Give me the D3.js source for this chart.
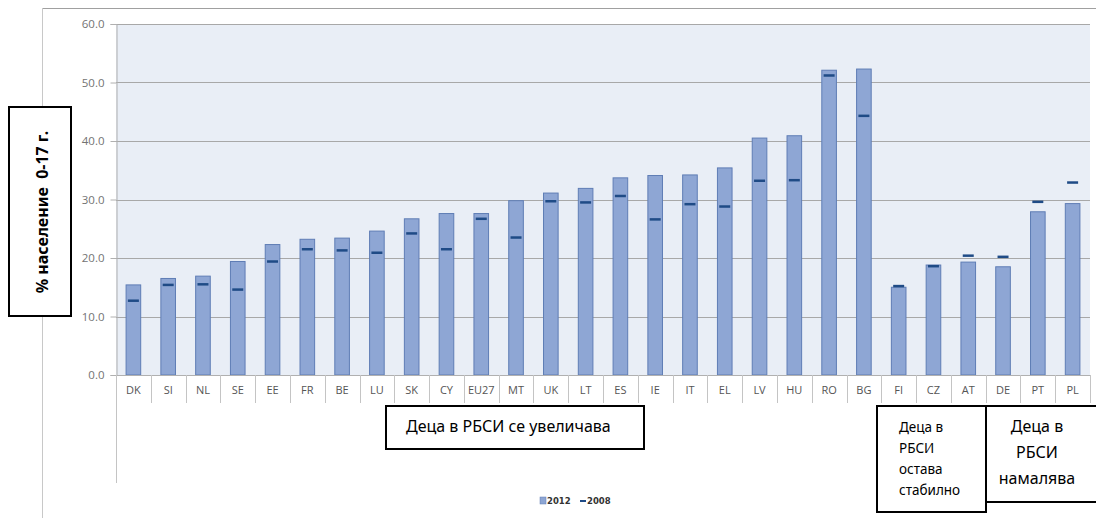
<!DOCTYPE html>
<html>
<head>
<meta charset="utf-8">
<script src="https://cdn.jsdelivr.net/npm/d3@7"></script>
<style>
  html, body { margin: 0; padding: 0; background: #fff; }
  svg { display: block; }
</style>
</head>
<body>
<svg id="chart" width="1096" height="518"></svg>
<script>
const categories = ["DK","SI","NL","SE","EE","FR","BE","LU","SK","CY","EU27","MT","UK","LT","ES","IE","IT","EL","LV","HU","RO","BG","FI","CZ","AT","DE","PT","PL"];
const values2012 = [15.4,16.5,16.9,19.4,22.3,23.2,23.4,24.6,26.7,27.6,27.6,29.8,31.1,31.9,33.7,34.1,34.2,35.4,40.5,40.9,52.1,52.3,15.0,18.8,19.3,18.5,27.9,29.3];
const values2008 = [12.7,15.4,15.5,14.6,19.4,21.5,21.3,20.9,24.2,21.5,26.7,23.5,29.7,29.5,30.6,26.6,29.2,28.8,33.2,33.3,51.2,44.3,15.2,18.6,20.4,20.2,29.6,32.9];
const yTicks = [0,10,20,30,40,50,60];
const seriesNames = ["2012","2008"];
const yAxisTitle = "% население  0-17 г.";
const noteIncrease = "Деца в РБСИ се увеличава";
const noteStable = ["Деца в","РБСИ","остава","стабилно"];
const noteDecrease = ["Деца в","РБСИ","намалява"];

const svg = d3.select("#chart");
const plot = {left: 116, right: 1090, top: 24, bottom: 375};

const x = d3.scaleBand().domain(categories).range([plot.left, plot.right]).paddingInner(0.58).paddingOuter(0.29);
const xBand = d3.scaleBand().domain(categories).range([plot.left, plot.right]);
const y = d3.scaleLinear().domain([0, 60]).range([plot.bottom, plot.top]);

// outer chart frame (top + left)
svg.append("line").attr("x1", 42).attr("x2", 1096).attr("y1", 8.5).attr("y2", 8.5).attr("stroke", "#a0a0a0");
svg.append("line").attr("x1", 42.5).attr("x2", 42.5).attr("y1", 8).attr("y2", 518).attr("stroke", "#c8c8c8");

// plot background
svg.append("rect").attr("x", plot.left).attr("y", plot.top).attr("width", plot.right - plot.left)
  .attr("height", plot.bottom - plot.top).attr("fill", "#e9eef6");

// gridlines
svg.append("g").selectAll("line").data(yTicks.filter(d => d > 0)).join("line")
  .attr("x1", plot.left).attr("x2", plot.right)
  .attr("y1", d => Math.round(y(d)) + 0.5).attr("y2", d => Math.round(y(d)) + 0.5)
  .attr("stroke", "#a8a8a8").attr("stroke-width", 1);

// y axis
const yAxis = svg.append("g").attr("transform", `translate(${plot.left + 0.5},0)`)
  .call(d3.axisLeft(y).tickValues(yTicks).tickFormat(d3.format(".1f")).tickSize(6).tickPadding(6));
yAxis.select(".domain").attr("stroke", "#b0b0b0");
yAxis.selectAll(".tick line").attr("stroke", "#b0b0b0");
yAxis.selectAll("text").attr("fill", "#737373").style("font-family", "Open Sans, sans-serif").style("font-size", "11.5px");

// bars 2012
svg.append("g").selectAll("rect").data(categories).join("rect")
  .attr("x", d => x(d)).attr("width", x.bandwidth())
  .attr("y", (d, i) => y(values2012[i])).attr("height", (d, i) => y(0) - y(values2012[i]))
  .attr("fill", "#8ea6d4").attr("stroke", "#5f7db5").attr("stroke-width", 1);

// 2008 markers
svg.append("g").selectAll("line").data(categories).join("line")
  .attr("x1", d => xBand(d) + xBand.bandwidth() / 2 - 5.5)
  .attr("x2", d => xBand(d) + xBand.bandwidth() / 2 + 5.5)
  .attr("y1", (d, i) => y(values2008[i])).attr("y2", (d, i) => y(values2008[i]))
  .attr("stroke", "#1f4b86").attr("stroke-width", 2.5);

// x axis
svg.append("line").attr("x1", plot.left).attr("x2", plot.right).attr("y1", plot.bottom + 0.5).attr("y2", plot.bottom + 0.5).attr("stroke", "#b0b0b0");
const xAxis = svg.append("g").attr("transform", `translate(0,${plot.bottom})`)
  .call(d3.axisBottom(xBand).tickSize(0).tickPadding(13));
xAxis.select(".domain").remove();
xAxis.selectAll("text").attr("fill", "#555").style("font-family", "Open Sans, sans-serif").style("font-size", "11px")
  .attr("dy", "0.5em");
// separators between categories
const seps = categories.map(c => xBand(c)).concat([plot.right]);
svg.append("g").selectAll("line").data(seps).join("line")
  .attr("x1", d => Math.round(d) + 0.5).attr("x2", d => Math.round(d) + 0.5)
  .attr("y1", plot.bottom).attr("y2", (d, i) => i === 0 ? 483 : 403)
  .attr("stroke", "#c4c4c4");

// y axis title box
svg.append("rect").attr("x", 9).attr("y", 107).attr("width", 62).attr("height", 209)
  .attr("fill", "#fff").attr("stroke", "#000").attr("stroke-width", 2);
svg.append("text").attr("transform", "translate(44,212) rotate(-90)")
  .attr("text-anchor", "middle").attr("dominant-baseline", "middle")
  .attr("xml:space", "preserve").style("white-space", "pre")
  .style("font-family", "Noto Sans, sans-serif").style("font-weight", "bold").style("font-size", "16px")
  .attr("fill", "#000").text(yAxisTitle);

// annotation boxes
svg.append("rect").attr("x", 386).attr("y", 406).attr("width", 258).attr("height", 43)
  .attr("fill", "#fff").attr("stroke", "#000").attr("stroke-width", 2);
svg.append("text").attr("x", 406).attr("y", 428).attr("dominant-baseline", "middle")
  .style("font-family", "Noto Sans, sans-serif").style("font-size", "16px").attr("fill", "#000")
  .text(noteIncrease);

svg.append("rect").attr("x", 877).attr("y", 406).attr("width", 109).attr("height", 106)
  .attr("fill", "#fff").attr("stroke", "#000").attr("stroke-width", 2);
svg.append("g").selectAll("text").data(noteStable).join("text")
  .attr("x", 899).attr("y", (d, i) => 428 + i * 21).attr("dominant-baseline", "middle")
  .style("font-family", "Noto Sans, sans-serif").style("font-size", "13.5px").attr("fill", "#000")
  .text(d => d);

svg.append("rect").attr("x", 986).attr("y", 406).attr("width", 120).attr("height", 96)
  .attr("fill", "#fff").attr("stroke", "#000").attr("stroke-width", 2);
svg.append("g").selectAll("text").data(noteDecrease).join("text")
  .attr("x", 1037).attr("y", (d, i) => 428 + i * 26).attr("text-anchor", "middle").attr("dominant-baseline", "middle")
  .style("font-family", "Noto Sans, sans-serif").style("font-size", "16px").attr("fill", "#000")
  .text(d => d);

// legend
const lg = svg.append("g").attr("transform", "translate(540,501)");
lg.append("rect").attr("x", 0).attr("y", -4).attr("width", 6).attr("height", 7).attr("fill", "#8ea6d4").attr("stroke", "#5f7db5").attr("stroke-width", 0.5);
lg.append("text").attr("x", 7).attr("y", 0).attr("dominant-baseline", "middle")
  .style("font-family", "DejaVu Sans, sans-serif").style("font-weight", "bold").style("font-size", "8.5px").attr("fill", "#333").text(seriesNames[0]);
lg.append("line").attr("x1", 40).attr("x2", 46).attr("y1", 0).attr("y2", 0).attr("stroke", "#1f4b86").attr("stroke-width", 2);
lg.append("text").attr("x", 47).attr("y", 0).attr("dominant-baseline", "middle")
  .style("font-family", "DejaVu Sans, sans-serif").style("font-weight", "bold").style("font-size", "8.5px").attr("fill", "#333").text(seriesNames[1]);
</script>
</body>
</html>
